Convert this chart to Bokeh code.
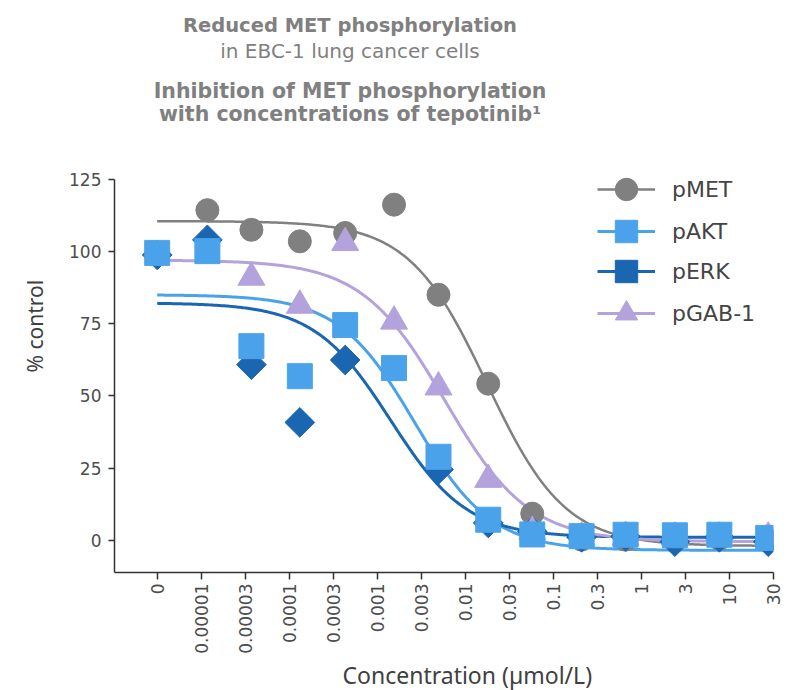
import numpy as np
from math import pi
from bokeh.plotting import figure
from bokeh.models import (FixedTicker, Legend, LegendItem, Label, Range1d,
                          ColumnDataSource, Title)
from bokeh.embed import file_html
from bokeh.resources import INLINE

# ---- data ----
tick_labels = ["0", "0.00001", "0.00003", "0.0001", "0.0003", "0.001", "0.003",
               "0.01", "0.03", "0.1", "0.3", "1", "3", "10", "30"]
# positions of the measured points along the category axis (in tick units)
x_pos = [0.0, 1.14, 2.14, 3.24, 4.27, 5.38, 6.39, 7.52, 8.52, 9.64, 10.64, 11.76, 12.77, 13.88]

series_names = ["pMET", "pAKT", "pERK", "pGAB-1"]
pMET = [np.nan, 114.3, 107.5, 103.5, 106.4, 116.2, 85.0, 54.2, 9.2, 0.2, 0.2, 0.5, 0.5, 0.3]
pAKT = [99.5, 100.1, 67.2, 56.8, 74.5, 59.6, 28.9, 7.1, 2.0, 1.4, 1.9, 1.7, 1.9, 0.8]
pERK = [98.8, 104.0, 60.8, 40.8, 62.4, np.nan, 24.5, 6.0, 3.0, 1.0, 1.3, -0.5, 1.0, -0.5]
pGAB = [np.nan, np.nan, 91.0, 81.3, 103.0, 75.8, 53.0, 21.0, 3.0, 1.0, 1.0, 1.0, 1.0, 1.0]

# 4-parameter logistic fit parameters
fit_top = [110.5, 85.0, 82.2, 97.0]
fit_bottom = [-2.0, -3.5, 1.0, -0.5]
fit_mid = [7.49, 5.85, 5.30, 6.54]
fit_hill = [0.49, 0.50, 0.50, 0.458]

y_ticks = [0, 25, 50, 75, 100, 125]
y_axis_min, y_axis_max = -11.18, 125

colors = ["#808080", "#4aa3ea", "#1a66b0", "#b4a2dc"]
line_widths = [2.5, 3, 3, 3]

# ---- figure (frame reaches the top of the canvas; the y axis line is bounded) ----
p = figure(frame_width=659, frame_height=572,
           x_range=Range1d(-0.97, 14), y_range=Range1d(y_axis_min, 186.9),
           output_backend="svg", toolbar_location=None,
           min_border_left=113, min_border_right=10,
           min_border_top=0, min_border_bottom=0)
p.outline_line_color = None
p.xgrid.grid_line_color = None
p.ygrid.grid_line_color = None
p.background_fill_color = "white"
p.border_fill_color = "white"

for ax in (p.xaxis[0], p.yaxis[0]):
    ax.axis_line_color = "#333333"
    ax.axis_line_width = 1.5
    ax.major_tick_line_color = "#333333"
    ax.major_tick_line_width = 1.5
    ax.minor_tick_line_color = None
    ax.major_tick_in = 0
    ax.major_label_text_font = "DejaVu Sans"
    ax.major_label_text_font_size = "17px"
    ax.major_label_text_color = "#4d4d4d"

p.xaxis.ticker = FixedTicker(ticks=list(range(len(tick_labels))))
p.xaxis.major_label_overrides = {i: lab for i, lab in enumerate(tick_labels)}
p.xaxis.major_label_orientation = pi / 2
p.xaxis.major_tick_out = 7
p.xaxis.major_label_standoff = 4

p.yaxis.ticker = FixedTicker(ticks=y_ticks)
p.yaxis.bounds = (y_axis_min, y_axis_max)
p.yaxis.major_tick_out = 6
p.yaxis.major_label_standoff = 7

# ---- fitted curves ----
u = np.linspace(x_pos[0], x_pos[-1], 400)
line_rs = []
for i in range(4):
    yc = fit_bottom[i] + (fit_top[i] - fit_bottom[i]) / (1 + 10 ** (fit_hill[i] * (u - fit_mid[i])))
    r = p.line(u, yc, line_color=colors[i], line_width=line_widths[i])
    line_rs.append(r)

# ---- markers (draw order: pMET, pERK, pGAB-1, pAKT on top) ----
src = ColumnDataSource(dict(x=x_pos, met=pMET, akt=pAKT, erk=pERK, gab=pGAB))
r_met = p.scatter("x", "met", source=src, marker="circle", size=23,
                  fill_color=colors[0], line_color=colors[0])
r_erk = p.scatter("x", "erk", source=src, marker="square", angle=pi / 4, size=21,
                  fill_color=colors[2], line_color=colors[2])
r_gab = p.scatter("x", "gab", source=src, marker="triangle", size=27,
                  fill_color=colors[3], line_color=colors[3])
r_akt = p.scatter("x", "akt", source=src, marker="square", size=25,
                  fill_color=colors[1], line_color=colors[1])
mark_rs = [r_met, r_akt, r_erk, r_gab]

# legend split in two interleaved halves so that rows can sit closer than the glyph box
def make_legend(idx, loc):
    return Legend(
        items=[LegendItem(label=series_names[i], renderers=[line_rs[i], mark_rs[i]]) for i in idx],
        location=loc, glyph_width=58, glyph_height=56, spacing=26,
        padding=0, margin=0, label_standoff=17,
        border_line_color=None, background_fill_alpha=0,
        label_text_font="DejaVu Sans", label_text_font_size="22px", label_text_color="#444444",
    )

p.add_layout(make_legend([0, 2], (483, 273)))
p.add_layout(make_legend([1, 3], (483, 231)))

# ---- titles ----
title_lines = ["Reduced MET phosphorylation", "in EBC-1 lung cancer cells",
               "Inhibition of MET phosphorylation", "with concentrations of tepotinib\u00b9"]
title_y = [178.2, 169.4, 155.4, 147.6]
title_style = ["bold", "normal", "bold", "bold"]
title_size = ["19.5px", "20px", "20.5px", "20.5px"]
for t, ty, st, fs in zip(title_lines, title_y, title_style, title_size):
    p.add_layout(Label(x=4.38, y=ty, text=t, text_align="center", text_baseline="alphabetic",
                       text_font="DejaVu Sans", text_font_style=st, text_font_size=fs,
                       text_color="#808080"))

# ---- axis titles ----
p.add_layout(Title(text="Concentration (\u00b5mol/L)", align="left", offset=228, standoff=0,
                   text_font="Noto Sans", text_font_style="normal", text_font_size="23px",
                   text_color="#404040"), "below")
p.add_layout(Title(text="% control", align="left", offset=200, standoff=36,
                   text_font="Noto Sans", text_font_style="normal", text_font_size="21px",
                   text_color="#404040"), "left")

open("out.html", "w").write(file_html(p, INLINE))
